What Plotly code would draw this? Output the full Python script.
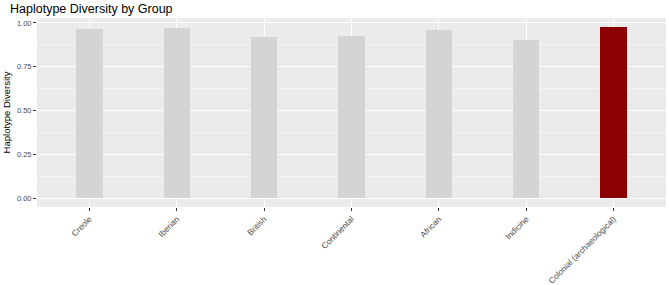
import plotly.graph_objects as go

groups = ["Creole", "Iberian", "British", "Continental", "African", "Indicine", "Colonial (archaeological)"]
diversity = [0.966, 0.972, 0.919, 0.928, 0.960, 0.900, 0.979]
highlight = [False, False, False, False, False, False, True]
y_ticks = [0.0, 0.25, 0.5, 0.75, 1.0]
y_tick_labels = ["0.00", "0.25", "0.50", "0.75", "1.00"]

colors = ["#8B0000" if h else "#D4D4D4" for h in highlight]

fig = go.Figure(go.Bar(
    x=list(range(len(groups))), y=diversity, width=0.3,
    marker=dict(color=colors, line=dict(width=0)),
    hoverinfo="skip",
))

fig.update_layout(
    width=669, height=285,
    margin=dict(l=37, r=3, t=18, b=78, autoexpand=False),
    paper_bgcolor="white", plot_bgcolor="#EBEBEB",
    showlegend=False,
    font=dict(family="Liberation Sans, Arial, sans-serif", color="#4D4D4D"),
    title=dict(text="Haplotype Diversity by Group", x=10/669, xref="container", xanchor="left",
               y=1-9/285, yref="container", yanchor="middle",
               font=dict(size=12.5, color="black")),
    bargap=0,
)
fig.update_xaxes(
    range=[-0.6, 6.6], tickmode="array", tickvals=list(range(len(groups))), ticktext=groups,
    tickangle=-45, tickfont=dict(size=8.3, color="#4D4D4D"),
    ticks="outside", ticklen=3, tickcolor="#333333", automargin=False,
    showgrid=True, gridcolor="white", gridwidth=1, zeroline=False, showline=False,
)
fig.update_yaxes(
    range=[-0.049, 1.028], tickmode="array", tickvals=y_ticks, ticktext=y_tick_labels,
    tickfont=dict(size=7.5, color="#4D4D4D"),
    ticks="outside", ticklen=3, tickcolor="#333333", automargin=False,
    showgrid=True, gridcolor="white", gridwidth=1, zeroline=False, showline=False,
    minor=dict(tick0=0.125, dtick=0.25, showgrid=True, gridcolor="#F4F4F4", gridwidth=0.6, ticks=""),
    title=dict(text="Haplotype Diversity", font=dict(size=9.5, color="black"), standoff=4),
)

fig.write_html("out.html", config={"displayModeBar": False},
               post_script="document.body.style.margin='0';document.body.style.overflow='hidden';")
